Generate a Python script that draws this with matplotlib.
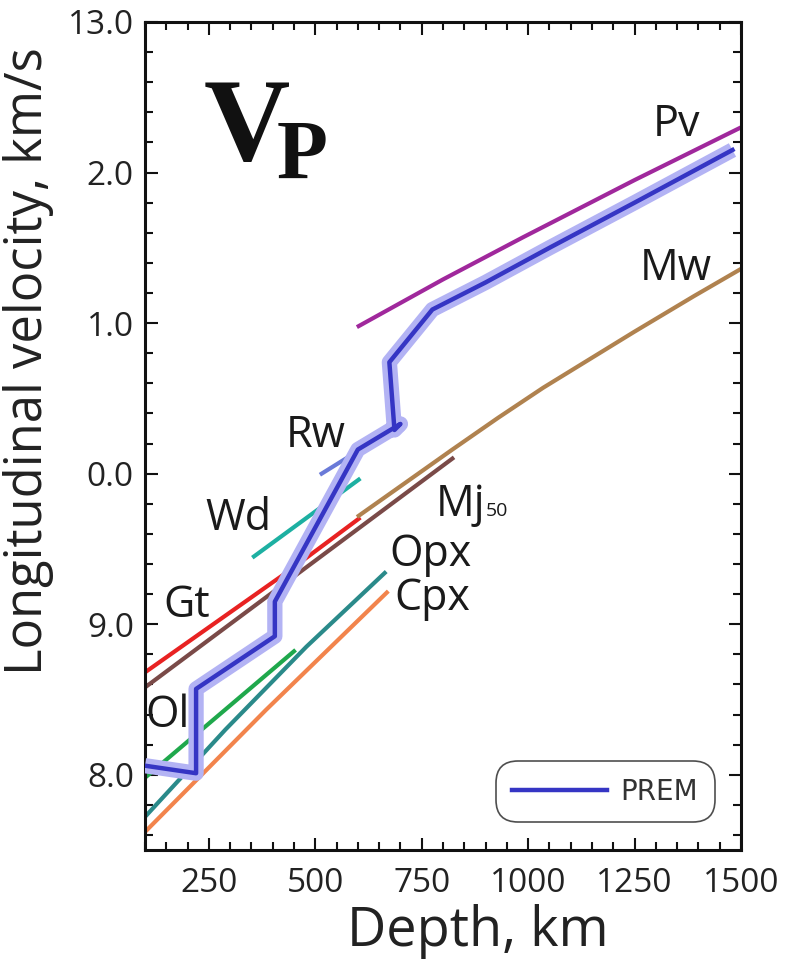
import matplotlib
matplotlib.use("Agg")
import matplotlib.pyplot as plt
from matplotlib.lines import Line2D
from matplotlib.ticker import MultipleLocator, FixedLocator, FixedFormatter

plt.rcParams['font.family'] = ['Open Sans', 'DejaVu Sans']
plt.rcParams['mathtext.fontset'] = 'custom'
plt.rcParams['mathtext.rm'] = 'Liberation Serif'
plt.rcParams['mathtext.bf'] = 'Liberation Serif:bold'

# ---- data (depth km, Vp km/s) ----
prem_depth = [100, 220, 220, 405, 405, 600, 700, 686, 674, 775, 900, 1050, 1250, 1480]
prem_vp    = [8.06, 8.01, 8.57, 8.92, 9.15, 10.16, 10.33, 10.29, 10.74, 11.09, 11.27, 11.50, 11.80, 12.15]

pv_depth = [602, 800, 988, 1250, 1500]
pv_vp    = [10.98, 11.29, 11.57, 11.95, 12.30]

mw_depth = [602, 822, 929, 1035, 1248, 1390, 1500]
mw_vp    = [9.72, 10.16, 10.37, 10.57, 10.94, 11.18, 11.36]

mj_depth = [100, 822]
mj_vp    = [8.58, 10.10]

gt_depth = [100, 436, 602]
gt_vp    = [8.68, 9.35, 9.70]

wd_depth = [356, 602]
wd_vp    = [9.45, 9.96]

rw_depth = [515, 600, 660]
rw_vp    = [10.00, 10.15, 10.25]

ol_depth = [100, 450]
ol_vp    = [7.98, 8.82]

opx_depth = [100, 289, 479, 663]
opx_vp    = [7.72, 8.30, 8.85, 9.34]

cpx_depth = [100, 384, 668]
cpx_vp    = [7.62, 8.43, 9.21]

y_ticks = [8, 9, 10, 11, 12, 13]
y_tick_labels = ["8.0", "9.0", "0.0", "1.0", "2.0", "13.0"]
x_ticks = [250, 500, 750, 1000, 1250, 1500]
x_tick_labels = ["250", "500", "750", "1000", "1250", "1500"]

fig = plt.figure(figsize=(7.88, 9.6), dpi=100)
ax = fig.add_axes([145/788, 110/960, 596/788, 828/960])

lw = 3.0
ax.plot(prem_depth, prem_vp, color='#b3b3f4', lw=11, solid_joinstyle='round',
        solid_capstyle='butt', zorder=3)
ax.plot(rw_depth, rw_vp, color='#6a7ad8', lw=lw, zorder=2)
ax.plot(wd_depth, wd_vp, color='#1db0a2', lw=lw, zorder=2)
ax.plot(gt_depth, gt_vp, color='#e82222', lw=lw, zorder=2)
ax.plot(mj_depth, mj_vp, color='#7a4a48', lw=lw, zorder=2)
ax.plot(mw_depth, mw_vp, color='#b0824f', lw=lw, zorder=2)
ax.plot(pv_depth, pv_vp, color='#a0289c', lw=lw, zorder=2)
ax.plot(ol_depth, ol_vp, color='#1fa84c', lw=lw, zorder=2)
ax.plot(opx_depth, opx_vp, color='#2a8a8a', lw=lw, zorder=2)
ax.plot(cpx_depth, cpx_vp, color='#f2844c', lw=lw, zorder=2)
ax.plot(prem_depth, prem_vp, color='#3535c4', lw=3.2, solid_joinstyle='round', zorder=4)

ax.set_xlim(100, 1500)
ax.set_ylim(7.5, 13.0)

ax.xaxis.set_major_locator(FixedLocator(x_ticks))
ax.xaxis.set_major_formatter(FixedFormatter(x_tick_labels))
ax.xaxis.set_minor_locator(MultipleLocator(50))
ax.yaxis.set_major_locator(FixedLocator(y_ticks))
ax.yaxis.set_major_formatter(FixedFormatter(y_tick_labels))
ax.yaxis.set_minor_locator(MultipleLocator(0.2))

ax.tick_params(which='both', direction='in', top=True, right=True, width=1.5, color='#111111')
ax.tick_params(which='major', length=9, labelsize=24, pad=8, labelcolor='#222222')
ax.tick_params(which='minor', length=5.5)
ax.tick_params(axis='x', which='major', pad=12)
for s in ax.spines.values():
    s.set_linewidth(2.2)
    s.set_color('#111111')

ax.set_xlabel("Depth, km", fontsize=39, color='#222222')
ax.xaxis.set_label_coords(0.559, -0.065)
ax.set_ylabel("Longitudinal velocity, km/s", fontsize=36.5, color='#222222')
ax.yaxis.set_label_coords(-0.152, 0.59)

tk = dict(fontsize=31, color='#1a1a1a', ha='center', va='center', zorder=6)
ax.text(1348, 12.32, "Pv", **tk)
ax.text(1348, 11.36, "Mw", **tk)
ax.text(500, 10.25, "Rw", **tk)
ax.text(320, 9.70, "Wd", **tk)
ax.text(770, 9.46, "Opx", **tk)
ax.text(775, 9.17, "Cpx", **tk)
ax.text(197, 9.12, "Gt", **tk)
ax.text(154, 8.39, "Ol", **tk)
ax.text(782, 9.72, "Mj", fontsize=31, color='#1a1a1a', ha='left', va='baseline', zorder=6)
ax.text(900, 9.72, "50", fontsize=14, color='#1a1a1a', ha='left', va='baseline', zorder=6)

ax.text(0.097, 0.834, r"$\mathbf{V}_{\!\mathbf{P}}$", transform=ax.transAxes, fontsize=86,
        ha='left', va='baseline', color='#111111')

handle = Line2D([], [], color='#3535c4', lw=3.2)
leg = ax.legend([handle], ["PREM"], loc='lower right', bbox_to_anchor=(0.968, 0.025),
                prop={'family': 'DejaVu Sans', 'size': 20}, frameon=True, fancybox=True,
                handlelength=3.4, handletextpad=0.5, borderpad=0.35, labelcolor='#333333')
fr = leg.get_frame()
fr.set_edgecolor('#222222')
fr.set_linewidth(1.2)
fr.set_boxstyle('round', pad=0.25, rounding_size=0.8)

fig.savefig("out.png", dpi=100)
